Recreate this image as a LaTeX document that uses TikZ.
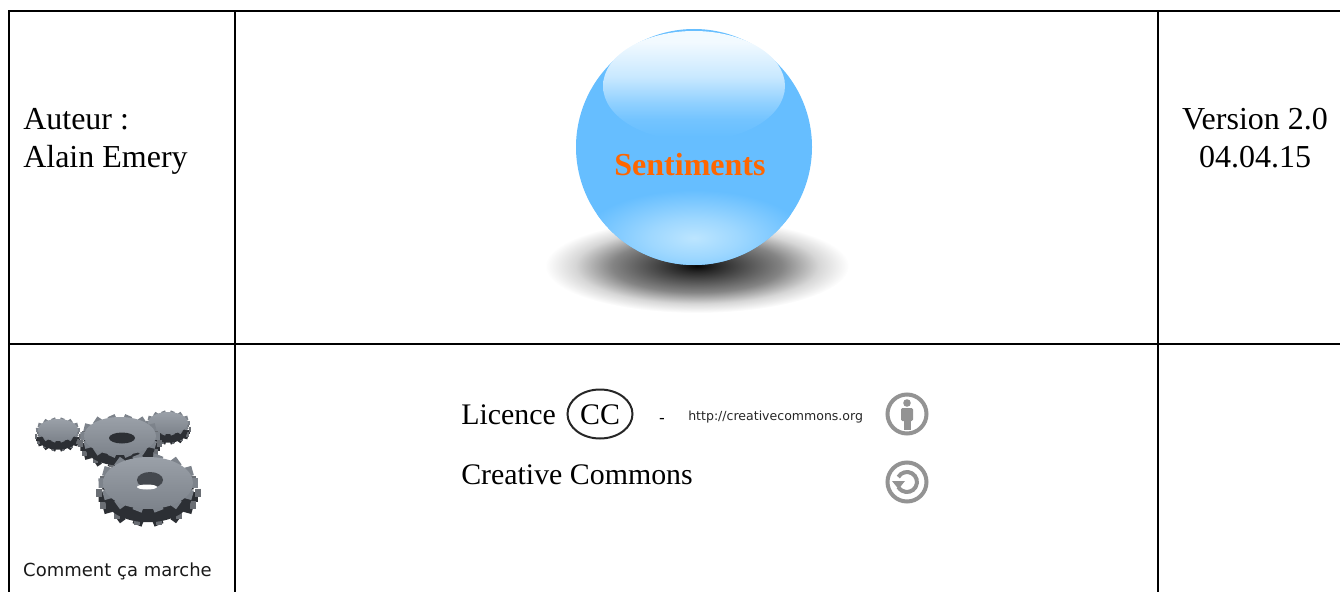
\documentclass[tikz,border=0pt]{standalone}
\usepackage{fontspec}
\setmainfont{Liberation Serif}
\newfontfamily\sansfont{DejaVu Sans}
\usepackage{tikz}
\definecolor{ballblue}{HTML}{66BEFF}
\definecolor{ballglow}{HTML}{BCE5FF}
\definecolor{balltop}{HTML}{F2FAFF}
\definecolor{ballmid}{HTML}{C8E8FF}
\definecolor{balllow}{HTML}{8FD0FF}
\definecolor{ballfade}{HTML}{74C4FF}
\definecolor{inkorange}{HTML}{FF6600}
\definecolor{icongray}{HTML}{939393}
\definecolor{gearface}{HTML}{7D838B}
\definecolor{gearlight}{HTML}{9AA0A8}
\definecolor{geardark}{HTML}{2C2F34}
\definecolor{gearside}{HTML}{6A6E74}
\pgfdeclareradialshading{ballshadow}{\pgfpoint{0bp}{0bp}}{color(0bp)=(black!97); color(3bp)=(black!85); color(8bp)=(black!68); color(14bp)=(black!48); color(20bp)=(black!16); color(25bp)=(white); color(50bp)=(white)}
\pgfdeclareradialshading{ballshine}{\pgfpoint{0bp}{0bp}}{color(0bp)=(ballglow); color(10bp)=(ballglow!65!ballblue); color(25bp)=(ballblue); color(50bp)=(ballblue)}
\pgfdeclareverticalshading{ballcap}{100bp}{color(0bp)=(ballblue); color(27bp)=(ballblue); color(35bp)=(ballfade); color(42bp)=(balllow); color(54bp)=(ballmid); color(70bp)=(balltop); color(100bp)=(balltop)}
\tikzstyle{rule} = [draw, line width=1.5pt]
\tikzstyle{cell} = [inner sep=0pt, anchor=base west, font=\fontsize{24}{28}\selectfont]
\tikzstyle{cellmid} = [inner sep=0pt, anchor=base, font=\fontsize{24}{28}\selectfont]
\tikzstyle{licence} = [inner sep=0pt, anchor=base west, font=\fontsize{22.4}{26}\selectfont]
\tikzstyle{badge} = [draw=icongray, line width=3pt]
% cx, cy, rx, ry, depth
\newcommand{\gearwheel}[5]{
  \foreach \ang in {0,25.7,...,340} {
    \draw [geardark, line width=#3*0.16pt]
      ({#1+0.9*#3*cos(\ang)},{#2+#5+0.9*#4*sin(\ang)}) -- ({#1+1.1*#3*cos(\ang)},{#2+#5+1.1*#4*sin(\ang)});
    \draw [gearside, line width=#3*0.10pt]
      ({#1+1.1*#3*cos(\ang)},{#2+#5*0.4+1.1*#4*sin(\ang)}) -- ({#1+1.1*#3*cos(\ang)},{#2+#5+1.1*#4*sin(\ang)});
  }
  \fill [geardark] (#1,#2+#5) ellipse ({#3*0.97} and {#4*0.97});
  \foreach \ang in {0,25.7,...,340} {
    \draw [gearface, line width=#3*0.16pt]
      ({#1+0.9*#3*cos(\ang)},{#2+0.9*#4*sin(\ang)}) -- ({#1+1.1*#3*cos(\ang)},{#2+1.1*#4*sin(\ang)});
  }
  \shade [top color=gearlight, bottom color=gearface] (#1,#2) ellipse (#3 and #4);
}
\begin{document}
\begin{tikzpicture}[x=0.75pt, y=-0.75pt]
  \useasboundingbox (0,0) rectangle (1340,592);
  % Table rules
  \draw [rule] (9,592) -- (9,11) -- (1340,11);
  \draw [rule] (9,344) -- (1340,344);
  \draw [rule] (235,11) -- (235,592);
  \draw [rule] (1158,11) -- (1158,592);
  % Left and right cells
  \node [cell] (auteur) at (23,129) {Auteur :};
  \node [cell] (alain) at (23,167) {Alain Emery};
  \node [cellmid] (version) at (1255,129) {Version 2.0};
  \node [cellmid] (date) at (1255,167) {04.04.15};
  % Ball and its shadow
  \shade [shading=ballshadow] (697,266) ellipse (152 and 47);
  \fill [ballblue] (694,147) circle (118);
  \begin{scope}
    \clip (694,147) circle (118);
    \shade [shading=ballshine] (694,238) ellipse (112 and 48);
  \end{scope}
  \shade [shading=ballcap] (694,86) ellipse (91 and 55);
  \node [cellmid, font=\fontsize{24}{28}\selectfont\bfseries, text=inkorange] (sentiments) at (690,175.5) {Sentiments};
  % Gears
  \gearwheel{168}{423}{20}{11}{9}
  \gearwheel{58}{430}{20}{11}{9}
  \gearwheel{120}{436}{36}{19}{11}
  \fill [geardark] (122,438) ellipse (13 and 5.5);
  \gearwheel{148}{483}{45}{26}{14}
  \fill [geardark!70!gearface] (150,480) ellipse (13 and 8);
  \fill [white] (147,487) ellipse (10 and 2.5);
  \node [inner sep=0pt, anchor=base, font=\sansfont\fontsize{13.5}{16}\selectfont, text=black!90] (comment) at (117.5,576) {Comment ça marche};
  % Licence block
  \node [licence] (lic) at (461,424) {Licence};
  \node [licence, anchor=base] (cc) at (600,424) {CC};
  \draw [line width=1.5pt, black!85] (600,414) ellipse (32.5 and 24.5);
  \node [inner sep=0pt, anchor=base, font=\sansfont\fontsize{12}{14}\selectfont] (dash) at (662,423) {-};
  \node [inner sep=0pt, anchor=base west, font=\sansfont\fontsize{9.4}{12}\selectfont, text=black!85] (url) at (688,420) {http://creativecommons.org};
  \node [licence] (commons) at (461,484) {Creative Commons};
  % Badges
  \draw [badge] (907,414) circle (19.5);
  \fill [icongray] (907,403) circle (3.8);
  \fill [icongray, rounded corners=1pt] (901,408) rectangle (913,421);
  \fill [icongray] (903.5,420) rectangle (910.5,430);
  \draw [badge] (907,482) circle (19.5);
  \draw [icongray, line width=3pt] (898.3,477) arc (210:510:10);
  \fill [icongray] (892,481) -- (905,481) -- (898.5,489) -- cycle;
\end{tikzpicture}
\end{document}
